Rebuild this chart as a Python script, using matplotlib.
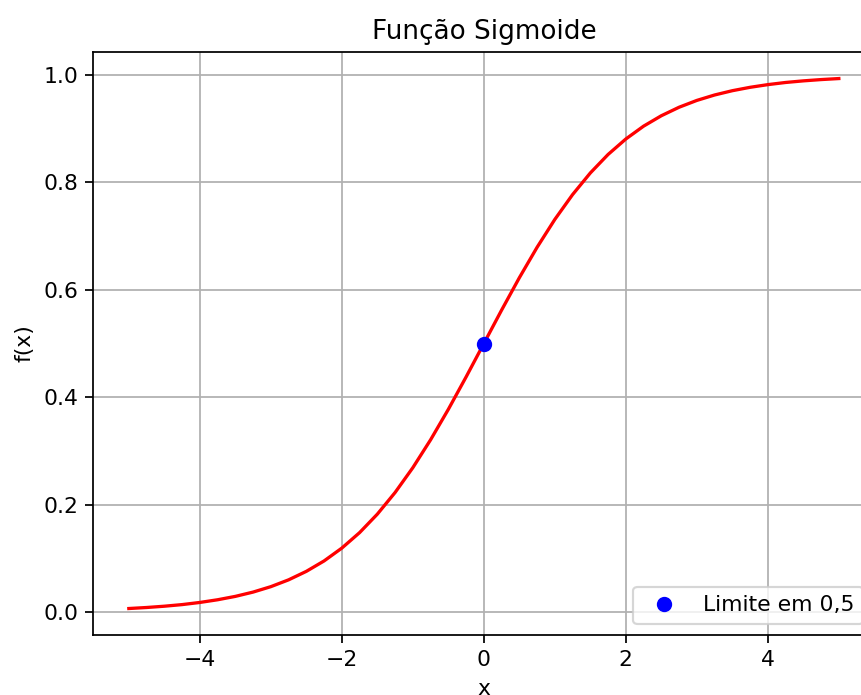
import matplotlib
matplotlib.use("Agg")
import matplotlib.pyplot as plt

# valores (passo de 0.25)
x = [-5.0, -4.75, -4.5, -4.25, -4.0, -3.75, -3.5, -3.25, -3.0, -2.75,
     -2.5, -2.25, -2.0, -1.75, -1.5, -1.25, -1.0, -0.75, -0.5, -0.25,
     0.0, 0.25, 0.5, 0.75, 1.0, 1.25, 1.5, 1.75, 2.0, 2.25,
     2.5, 2.75, 3.0, 3.25, 3.5, 3.75, 4.0, 4.25, 4.5, 4.75, 5.0]
fx = [0.0067, 0.0086, 0.0110, 0.0140, 0.0180, 0.0230, 0.0293, 0.0373, 0.0474, 0.0601,
      0.0759, 0.0953, 0.1192, 0.1480, 0.1824, 0.2227, 0.2689, 0.3208, 0.3775, 0.4378,
      0.5000, 0.5622, 0.6225, 0.6792, 0.7311, 0.7773, 0.8176, 0.8520, 0.8808, 0.9047,
      0.9241, 0.9399, 0.9526, 0.9627, 0.9707, 0.9770, 0.9820, 0.9860, 0.9890, 0.9914, 0.9933]

ponto_x = [0]
ponto_y = [0.5]

fig = plt.figure(figsize=(861 / 157.5, 695 / 157.5), dpi=157.5)
ax = fig.add_axes([0.1084, 0.0863, 0.9071, 0.8388])

ax.plot(x, fx, color='red')
ax.plot(ponto_x, ponto_y, 'o', color='blue', label='Limite em 0,5')
ax.set_title('Função Sigmoide')
ax.set_xlabel('x')
ax.set_ylabel('f(x)')
ax.grid(True)
ax.legend(loc='lower right')

fig.savefig('out.png', dpi=157.5)
